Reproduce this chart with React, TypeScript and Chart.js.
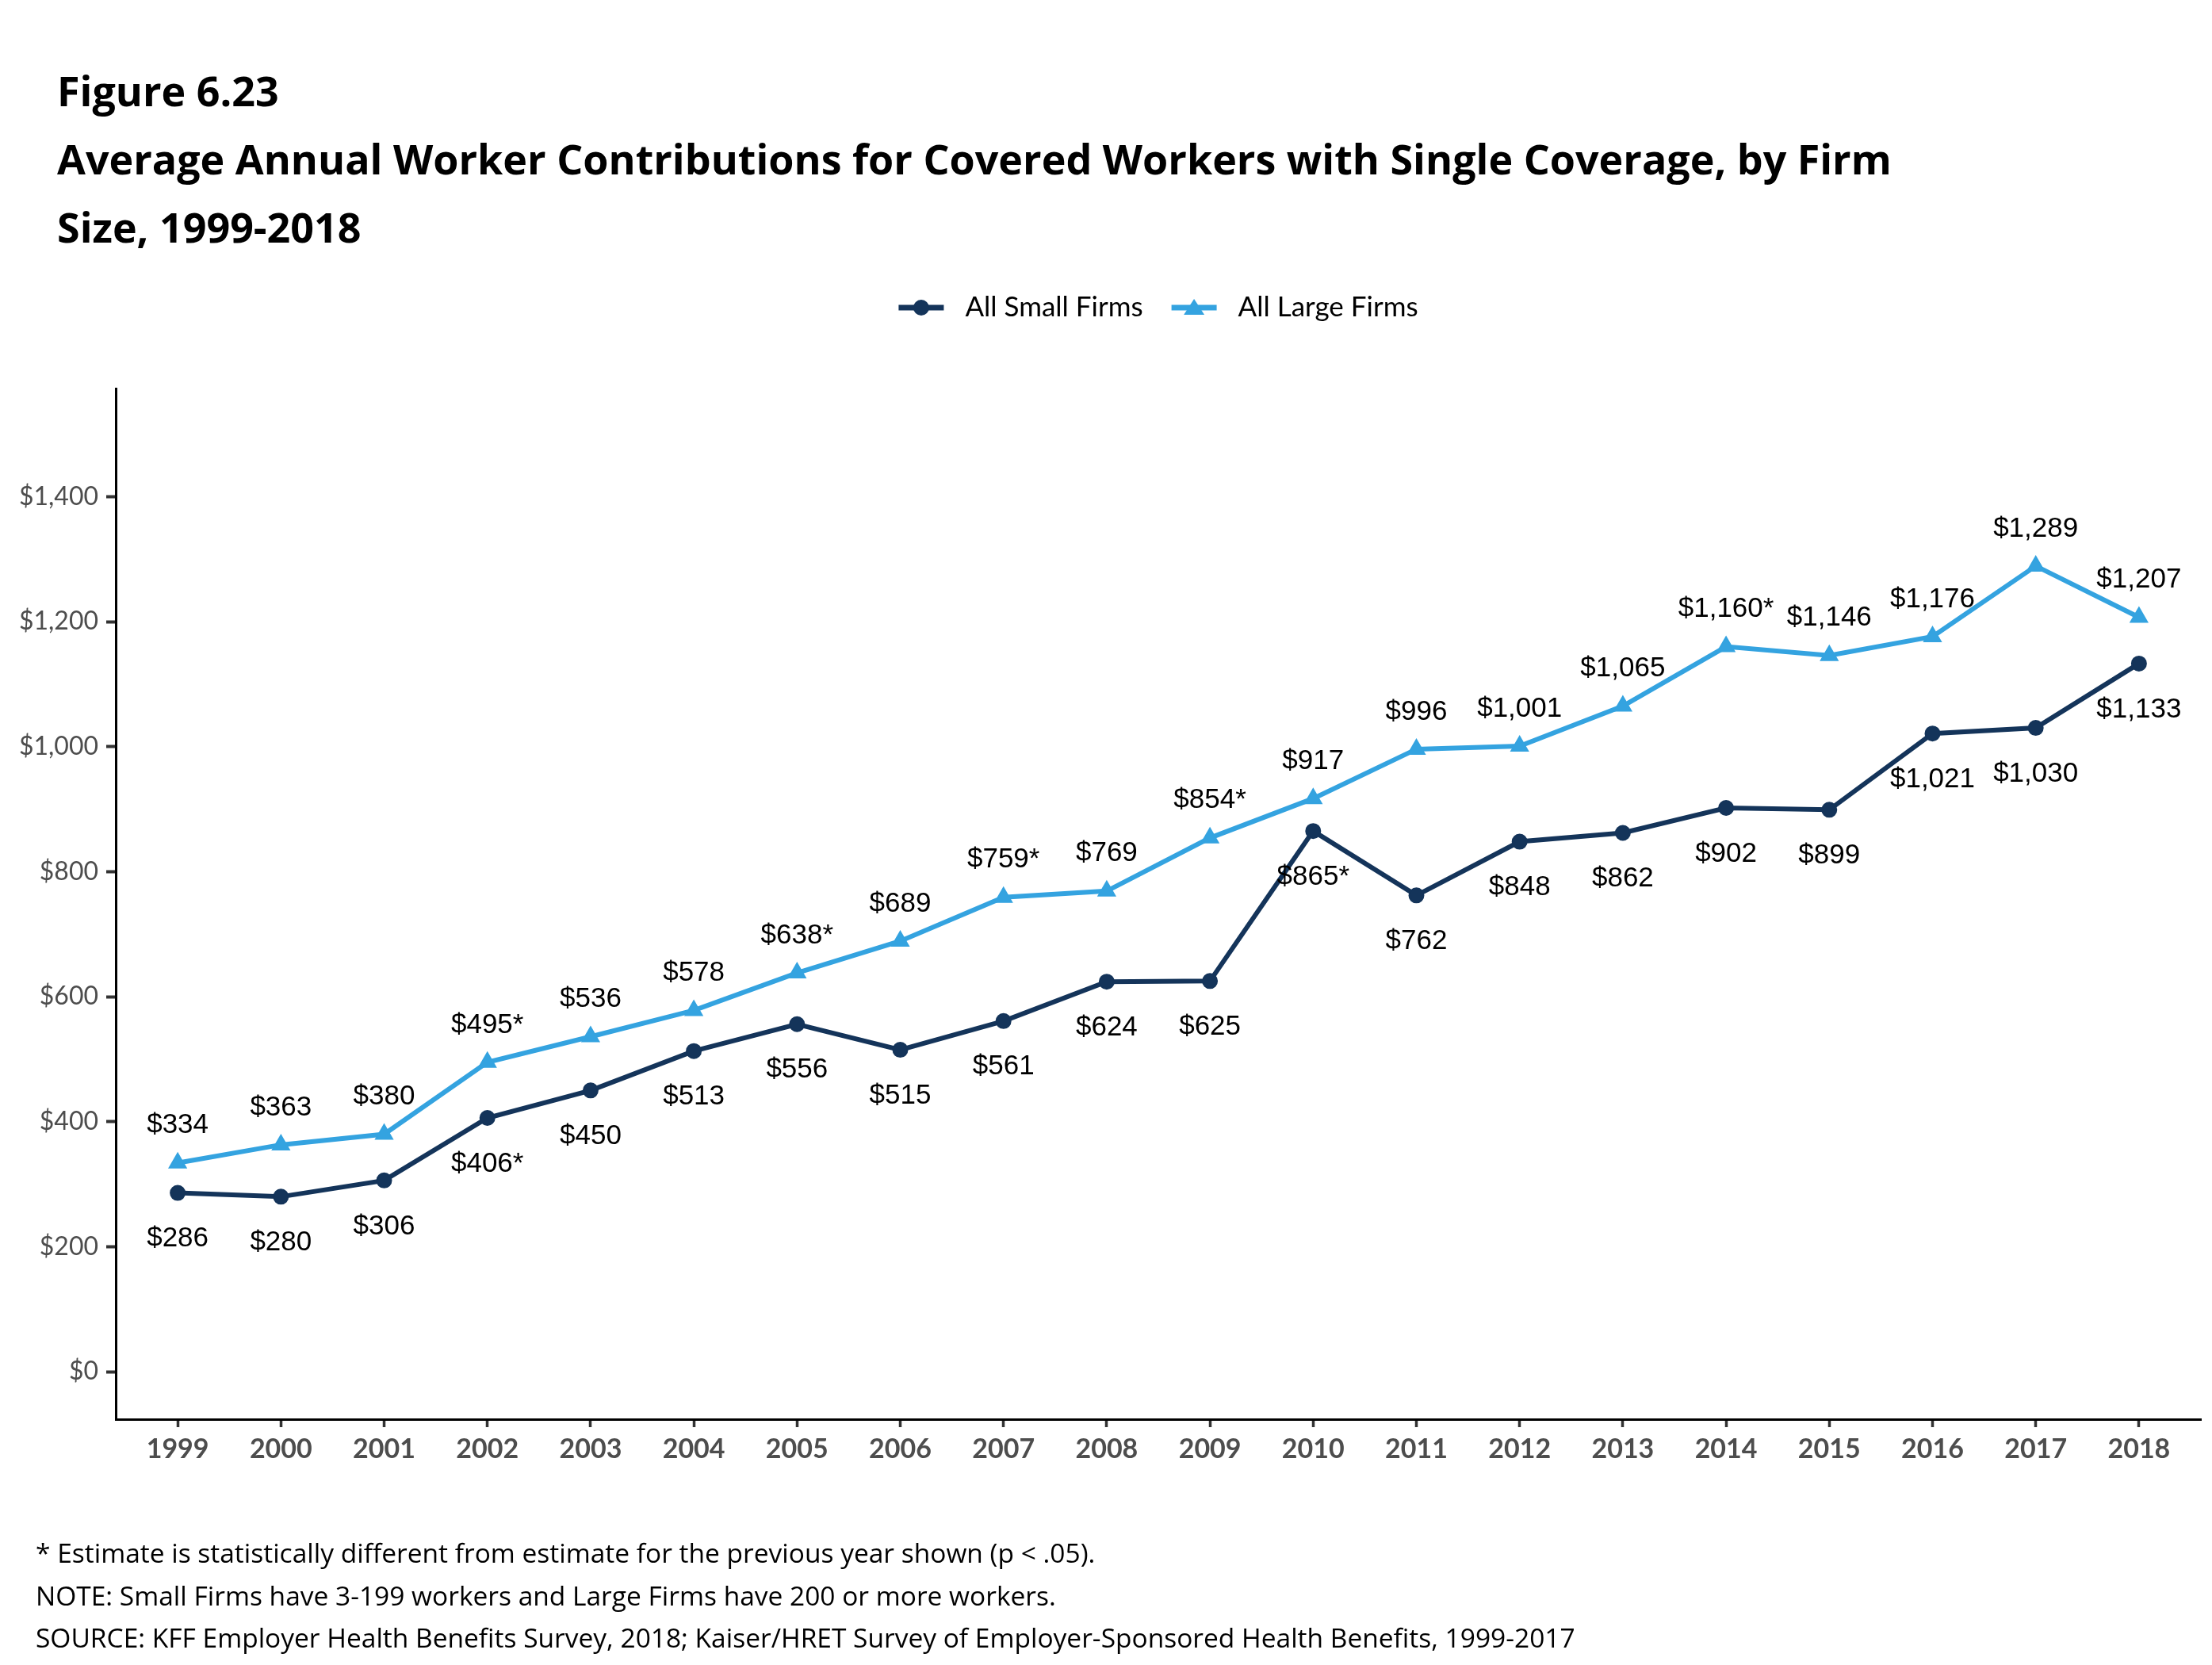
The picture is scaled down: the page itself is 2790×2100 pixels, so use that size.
import React, { useEffect, useRef } from 'react';
import { Chart, registerables } from 'chart.js';

Chart.register(...registerables);

// ---- Data ----
const years = [1999, 2000, 2001, 2002, 2003, 2004, 2005, 2006, 2007, 2008, 2009, 2010, 2011, 2012, 2013, 2014, 2015, 2016, 2017, 2018];
const smallFirms = [286, 280, 306, 406, 450, 513, 556, 515, 561, 624, 625, 865, 762, 848, 862, 902, 899, 1021, 1030, 1133];
const largeFirms = [334, 363, 380, 495, 536, 578, 638, 689, 759, 769, 854, 917, 996, 1001, 1065, 1160, 1146, 1176, 1289, 1207];
const smallSignificant = [false, false, false, true, false, false, false, false, false, false, false, true, false, false, false, false, false, false, false, false];
const largeSignificant = [false, false, false, true, false, false, true, false, true, false, true, false, false, false, false, true, false, false, false, false];
const yTicks = [0, 200, 400, 600, 800, 1000, 1200, 1400];
const seriesNames = ['All Small Firms', 'All Large Firms'];

const titleLines = [
  'Figure 6.23',
  'Average Annual Worker Contributions for Covered Workers with Single Coverage, by Firm',
  'Size, 1999-2018',
];
const footLines = [
  '* Estimate is statistically different from estimate for the previous year shown (p < .05).',
  'NOTE: Small Firms have 3-199 workers and Large Firms have 200 or more workers.',
  'SOURCE: KFF Employer Health Benefits Survey, 2018; Kaiser/HRET Survey of Employer-Sponsored Health Benefits, 1999-2017',
];

const NAVY = '#14345a';
const BLUE = '#34a3e0';

const fmt = (v: number) => '$' + v.toLocaleString('en-US');
const makeLabels = (vals: number[], sig: boolean[]) => vals.map((v, i) => fmt(v) + (sig[i] ? '*' : ''));

const dataLabelPlugin = {
  id: 'dataLabels',
  afterDatasetsDraw(chart: any) {
    const ctx = chart.ctx;
    ctx.save();
    ctx.font = '35px "Liberation Sans", Arial, sans-serif';
    ctx.fillStyle = '#000';
    ctx.textAlign = 'center';
    ctx.textBaseline = 'middle';
    chart.data.datasets.forEach((ds: any, i: number) => {
      const meta = chart.getDatasetMeta(i);
      meta.data.forEach((el: any, j: number) => {
        ctx.fillText(ds.pointLabels[j], el.x, el.y + ds.labelOffset);
      });
    });
    ctx.restore();
  },
};

const drawMarker = (ctx: CanvasRenderingContext2D, style: string, x: number, y: number, r: number, color: string) => {
  ctx.fillStyle = color;
  ctx.beginPath();
  if (style === 'circle') {
    ctx.arc(x, y, r, 0, Math.PI * 2);
  } else {
    ctx.moveTo(x, y - r * 1.1);
    ctx.lineTo(x + r * 1.3, y + r * 0.9);
    ctx.lineTo(x - r * 1.3, y + r * 0.9);
    ctx.closePath();
  }
  ctx.fill();
};

const legendPlugin = {
  id: 'customLegend',
  afterDraw(chart: any) {
    const ctx = chart.ctx;
    const area = chart.chartArea;
    const cy = 388;
    const markerW = 57;
    const gapText = 27;
    const gapItem = 36;
    ctx.save();
    ctx.font = '35px Lato, sans-serif';
    const items = chart.data.datasets.map((ds: any) => ({
      text: ds.label,
      color: ds.borderColor,
      style: ds.pointStyle,
      w: ctx.measureText(ds.label).width,
    }));
    let total = 0;
    items.forEach((it: any, i: number) => {
      total += markerW + gapText + it.w + (i < items.length - 1 ? gapItem : 0);
    });
    let x = (area.left + area.right) / 2 - total / 2;
    items.forEach((it: any) => {
      ctx.strokeStyle = it.color;
      ctx.lineWidth = 7;
      ctx.beginPath();
      ctx.moveTo(x, cy);
      ctx.lineTo(x + markerW, cy);
      ctx.stroke();
      drawMarker(ctx, it.style, x + markerW / 2, cy, 10, it.color);
      ctx.fillStyle = '#000';
      ctx.textAlign = 'left';
      ctx.textBaseline = 'middle';
      ctx.fillText(it.text, x + markerW + gapText, cy);
      x += markerW + gapText + it.w + gapItem;
    });
    ctx.restore();
  },
};

function LineChart() {
  const ref = useRef<HTMLCanvasElement | null>(null);
  useEffect(() => {
    if (!ref.current) return;
    const chart = new Chart(ref.current, {
      type: 'line',
      data: {
        datasets: [
          {
            label: seriesNames[0],
            data: years.map((y, i) => ({ x: y, y: smallFirms[i] })),
            borderColor: NAVY,
            backgroundColor: NAVY,
            borderWidth: 6,
            pointStyle: 'circle',
            pointRadius: 9,
            pointBorderWidth: 2,
            pointBackgroundColor: NAVY,
            pointBorderColor: NAVY,
            tension: 0,
            pointLabels: makeLabels(smallFirms, smallSignificant),
            labelOffset: 58,
          } as any,
          {
            label: seriesNames[1],
            data: years.map((y, i) => ({ x: y, y: largeFirms[i] })),
            borderColor: BLUE,
            backgroundColor: BLUE,
            borderWidth: 6,
            pointStyle: 'triangle',
            pointRadius: 12,
            pointBorderWidth: 2,
            pointBackgroundColor: BLUE,
            pointBorderColor: BLUE,
            tension: 0,
            pointLabels: makeLabels(largeFirms, largeSignificant),
            labelOffset: -47,
          } as any,
        ],
      },
      options: {
        animation: false,
        responsive: true,
        maintainAspectRatio: false,
        devicePixelRatio: 1,
        layout: { padding: { top: 490, right: 13, bottom: 0, left: 0 } },
        plugins: {
          legend: { display: false },
          tooltip: { enabled: false },
          title: { display: false },
        },
        scales: {
          x: {
            type: 'linear',
            min: 1998.4,
            max: 2018.6,
            afterBuildTicks: (s: any) => {
              s.ticks = years.map((v) => ({ value: v }));
            },
            afterFit: (s: any) => {
              s.height = 310;
            },
            grid: { display: true, drawOnChartArea: false, drawTicks: true, tickLength: 10, tickWidth: 3.5, tickColor: '#333' },
            border: { display: true, color: '#000', width: 3 },
            ticks: {
              color: '#4d4d4d',
              font: { family: 'Lato', size: 34, weight: 'bold' },
              padding: 8,
              autoSkip: false,
              maxRotation: 0,
              callback: (v: any) => String(v),
            },
          },
          y: {
            type: 'linear',
            min: -76,
            max: 1573,
            afterBuildTicks: (s: any) => {
              s.ticks = yTicks.map((v) => ({ value: v }));
            },
            afterFit: (s: any) => {
              s.width = 146;
            },
            grid: { display: true, drawOnChartArea: false, drawTicks: true, tickLength: 12, tickWidth: 4, tickColor: '#333' },
            border: { display: true, color: '#000', width: 3 },
            ticks: {
              color: '#4d4d4d',
              font: { family: 'Lato', size: 32 },
              padding: 10,
              callback: (v: any) => fmt(Number(v)),
            },
          },
        },
      } as any,
      plugins: [dataLabelPlugin, legendPlugin],
    });
    return () => chart.destroy();
  }, []);
  return <canvas ref={ref} />;
}

export default function App() {
  return (
    <div style={{ position: 'absolute', left: 0, top: 0, width: 2790, height: 2100, background: '#fff', overflow: 'hidden' }}>
      <div style={{ position: 'absolute', left: 0, top: 0, width: 2790, height: 2100 }}>
        <LineChart />
      </div>
      <div
        style={{
          position: 'absolute',
          left: 72,
          top: 71,
          fontFamily: '"Open Sans", sans-serif',
          fontWeight: 'bold',
          fontSize: 52,
          lineHeight: '86px',
          color: '#000',
          whiteSpace: 'nowrap',
        }}
      >
        {titleLines.map((t, i) => (
          <div key={i}>{t}</div>
        ))}
      </div>
      <div
        style={{
          position: 'absolute',
          left: 45,
          top: 1932,
          fontFamily: '"Open Sans", sans-serif',
          fontSize: 33.5,
          lineHeight: '53.5px',
          color: '#000',
          whiteSpace: 'nowrap',
        }}
      >
        {footLines.map((t, i) => (
          <div key={i}>{t}</div>
        ))}
      </div>
    </div>
  );
}
